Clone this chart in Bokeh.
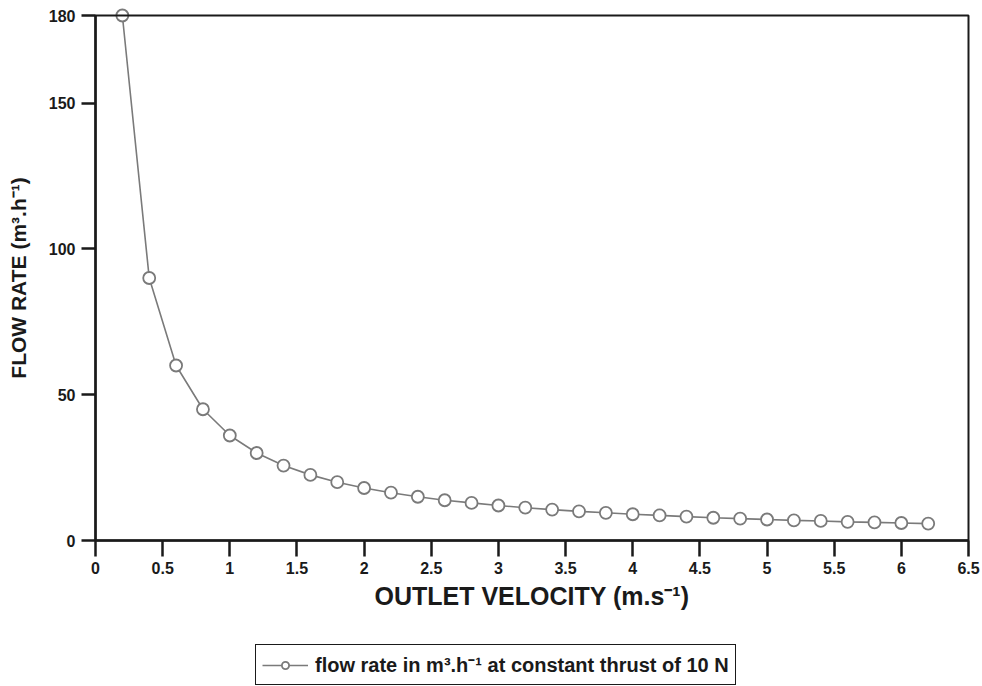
from bokeh.plotting import figure
from bokeh.models import FixedTicker, Legend, LegendItem, Range1d, BoxAnnotation
from bokeh.embed import file_html
from bokeh.resources import INLINE

velocity = [0.2, 0.4, 0.6, 0.8, 1.0, 1.2, 1.4, 1.6, 1.8, 2.0, 2.2, 2.4, 2.6, 2.8, 3.0,
            3.2, 3.4, 3.6, 3.8, 4.0, 4.2, 4.4, 4.6, 4.8, 5.0, 5.2, 5.4, 5.6, 5.8, 6.0, 6.2]
flow_rate = [180, 90, 60, 45, 36, 30, 25.7, 22.5, 20, 18, 16.4, 15, 13.8, 12.9, 12,
             11.25, 10.6, 10, 9.5, 9, 8.6, 8.2, 7.8, 7.5, 7.2, 6.9, 6.7, 6.4, 6.2, 6, 5.8]
x_ticks = [0, 0.5, 1, 1.5, 2, 2.5, 3, 3.5, 4, 4.5, 5, 5.5, 6, 6.5]
x_tick_labels = ["0", "0.5", "1", "1.5", "2", "2.5", "3", "3.5", "4", "4.5", "5", "5.5", "6", "6.5"]
y_ticks = [0, 50, 100, 150, 180]
x_min, x_max = 0, 6.5
y_min, y_max = 0, 180
series_label = "flow rate in m³.h⁻¹ at constant thrust of 10 N"
x_title = "OUTLET VELOCITY (m.s⁻¹)"
y_title = "FLOW RATE (m³.h⁻¹)"

FONT = "Liberation Sans"
W, H = 982, 686
# pixel layout of the plot box inside the canvas
LEFT, RIGHT, TOP, BOTTOM = 95, 968, 15, 540
sx = (RIGHT - LEFT) / (x_max - x_min)
sy = (BOTTOM - TOP) / (y_max - y_min)
x_start, x_end = x_min - LEFT / sx, x_max + (W - RIGHT) / sx
y_start, y_end = y_min - (H - BOTTOM) / sy, y_max + TOP / sy

p = figure(width=W, height=H, output_backend="svg", toolbar_location=None,
           x_range=Range1d(x_start, x_end), y_range=Range1d(y_start, y_end),
           min_border_left=0, min_border_right=0, min_border_top=0, min_border_bottom=0)
p.background_fill_color = "white"
p.border_fill_color = "white"
p.grid.visible = False
p.outline_line_color = None

frame_box = BoxAnnotation(left=x_min, right=x_max, bottom=y_min, top=y_max,
                          fill_alpha=0, line_color="#1a1a1a", line_alpha=1, line_width=2)
p.add_layout(frame_box)

line = p.line(velocity, flow_rate, line_color="#7a7a7a", line_width=1.6)
pts = p.scatter(velocity, flow_rate, marker="circle", size=12, fill_color="white",
                line_color="#7a7a7a", line_width=1.8)

for ax in (p.xaxis[0], p.yaxis[0]):
    ax.axis_line_color = "#1a1a1a"
    ax.axis_line_width = 2.5
    ax.major_tick_line_color = "#1a1a1a"
    ax.major_tick_line_width = 2.5
    ax.major_tick_in = 0
    ax.minor_tick_out = 0
    ax.minor_tick_in = 0
    ax.major_label_text_font = FONT
    ax.major_label_text_font_style = "bold"
    ax.major_label_text_font_size = "16px"
    ax.major_label_text_color = "#1a1a1a"
    ax.axis_label_text_font = FONT
    ax.axis_label_text_font_style = "bold"
    ax.axis_label_text_color = "#1a1a1a"

p.xaxis.fixed_location = y_min
p.xaxis.bounds = (x_min, x_max)
p.xaxis.ticker = FixedTicker(ticks=x_ticks)
p.xaxis.major_label_overrides = {t: l for t, l in zip(x_ticks, x_tick_labels)}
p.xaxis.major_tick_out = 16
p.xaxis.major_label_standoff = 5
p.xaxis.axis_label = x_title
p.xaxis.axis_label_text_font_size = "25px"
p.xaxis.axis_label_standoff = 5

p.yaxis.fixed_location = x_min
p.yaxis.bounds = (y_min, y_max)
p.yaxis.ticker = FixedTicker(ticks=y_ticks)
p.yaxis.major_tick_out = 14
p.yaxis.major_label_standoff = 6
p.yaxis.axis_label = y_title
p.yaxis.axis_label_text_font_size = "21px"
p.yaxis.axis_label_standoff = 16

legend = Legend(items=[LegendItem(label=series_label, renderers=[line, pts])],
                location=(255, 1), orientation="horizontal")
legend.label_text_font = FONT
legend.label_text_font_style = "bold"
legend.label_text_font_size = "20px"
legend.label_text_color = "#1a1a1a"
legend.border_line_color = "#1a1a1a"
legend.border_line_alpha = 1
legend.border_line_width = 1.5
legend.background_fill_alpha = 1
legend.glyph_width = 46
legend.glyph_height = 18
legend.label_height = 18
legend.padding = 6
legend.label_standoff = 7
p.add_layout(legend, "center")

open("out.html", "w").write(file_html(p, INLINE))
